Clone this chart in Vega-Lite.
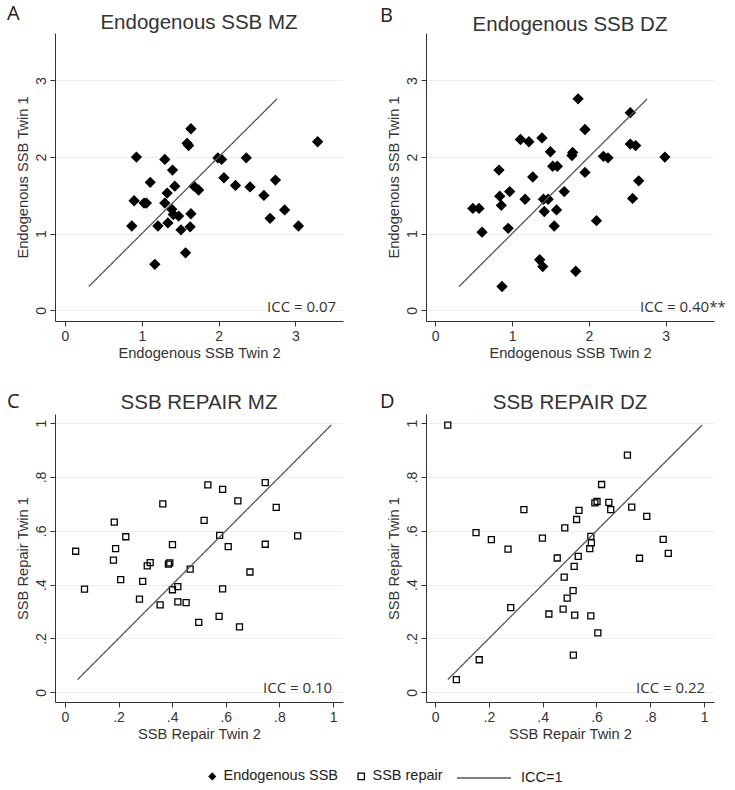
{
  "$schema": "https://vega.github.io/schema/vega-lite/v6.json",
  "padding": {"left": 7, "top": 4, "right": 5, "bottom": 5},
  "background": "white",
  "datasets": {
    "A": [
      {"x": 0.93, "y": 2.00, "s": "Endogenous SSB"}, {"x": 0.90, "y": 1.43, "s": "Endogenous SSB"}, {"x": 0.87, "y": 1.10, "s": "Endogenous SSB"},
      {"x": 1.03, "y": 1.40, "s": "Endogenous SSB"}, {"x": 1.06, "y": 1.40, "s": "Endogenous SSB"}, {"x": 1.11, "y": 1.67, "s": "Endogenous SSB"},
      {"x": 1.17, "y": 0.60, "s": "Endogenous SSB"}, {"x": 1.21, "y": 1.10, "s": "Endogenous SSB"}, {"x": 1.30, "y": 1.97, "s": "Endogenous SSB"},
      {"x": 1.33, "y": 1.53, "s": "Endogenous SSB"}, {"x": 1.30, "y": 1.40, "s": "Endogenous SSB"}, {"x": 1.34, "y": 1.14, "s": "Endogenous SSB"},
      {"x": 1.40, "y": 1.83, "s": "Endogenous SSB"}, {"x": 1.43, "y": 1.62, "s": "Endogenous SSB"}, {"x": 1.39, "y": 1.32, "s": "Endogenous SSB"},
      {"x": 1.41, "y": 1.25, "s": "Endogenous SSB"}, {"x": 1.48, "y": 1.23, "s": "Endogenous SSB"}, {"x": 1.51, "y": 1.05, "s": "Endogenous SSB"},
      {"x": 1.57, "y": 0.75, "s": "Endogenous SSB"}, {"x": 1.59, "y": 2.18, "s": "Endogenous SSB"}, {"x": 1.61, "y": 2.15, "s": "Endogenous SSB"},
      {"x": 1.64, "y": 2.37, "s": "Endogenous SSB"}, {"x": 1.64, "y": 1.26, "s": "Endogenous SSB"}, {"x": 1.63, "y": 1.09, "s": "Endogenous SSB"},
      {"x": 1.68, "y": 1.62, "s": "Endogenous SSB"}, {"x": 1.74, "y": 1.57, "s": "Endogenous SSB"}, {"x": 1.99, "y": 1.99, "s": "Endogenous SSB"},
      {"x": 2.04, "y": 1.97, "s": "Endogenous SSB"}, {"x": 2.07, "y": 1.73, "s": "Endogenous SSB"}, {"x": 2.22, "y": 1.63, "s": "Endogenous SSB"},
      {"x": 2.36, "y": 1.99, "s": "Endogenous SSB"}, {"x": 2.41, "y": 1.61, "s": "Endogenous SSB"}, {"x": 2.59, "y": 1.50, "s": "Endogenous SSB"},
      {"x": 2.74, "y": 1.70, "s": "Endogenous SSB"}, {"x": 2.67, "y": 1.20, "s": "Endogenous SSB"}, {"x": 2.86, "y": 1.31, "s": "Endogenous SSB"},
      {"x": 3.04, "y": 1.10, "s": "Endogenous SSB"}, {"x": 3.29, "y": 2.20, "s": "Endogenous SSB"}
    ],
    "B": [
      {"x": 0.49, "y": 1.33, "s": "Endogenous SSB"}, {"x": 0.57, "y": 1.33, "s": "Endogenous SSB"}, {"x": 0.61, "y": 1.02, "s": "Endogenous SSB"},
      {"x": 0.83, "y": 1.83, "s": "Endogenous SSB"}, {"x": 0.84, "y": 1.49, "s": "Endogenous SSB"}, {"x": 0.86, "y": 1.37, "s": "Endogenous SSB"},
      {"x": 0.87, "y": 0.31, "s": "Endogenous SSB"}, {"x": 0.97, "y": 1.55, "s": "Endogenous SSB"}, {"x": 0.95, "y": 1.07, "s": "Endogenous SSB"},
      {"x": 1.11, "y": 2.23, "s": "Endogenous SSB"}, {"x": 1.22, "y": 2.20, "s": "Endogenous SSB"}, {"x": 1.17, "y": 1.45, "s": "Endogenous SSB"},
      {"x": 1.27, "y": 1.74, "s": "Endogenous SSB"}, {"x": 1.39, "y": 2.25, "s": "Endogenous SSB"}, {"x": 1.36, "y": 0.66, "s": "Endogenous SSB"},
      {"x": 1.40, "y": 0.57, "s": "Endogenous SSB"}, {"x": 1.41, "y": 1.45, "s": "Endogenous SSB"}, {"x": 1.42, "y": 1.29, "s": "Endogenous SSB"},
      {"x": 1.47, "y": 1.45, "s": "Endogenous SSB"}, {"x": 1.50, "y": 2.07, "s": "Endogenous SSB"}, {"x": 1.53, "y": 1.88, "s": "Endogenous SSB"},
      {"x": 1.59, "y": 1.88, "s": "Endogenous SSB"}, {"x": 1.58, "y": 1.31, "s": "Endogenous SSB"}, {"x": 1.55, "y": 1.10, "s": "Endogenous SSB"},
      {"x": 1.68, "y": 1.55, "s": "Endogenous SSB"}, {"x": 1.78, "y": 2.02, "s": "Endogenous SSB"}, {"x": 1.79, "y": 2.06, "s": "Endogenous SSB"},
      {"x": 1.86, "y": 2.76, "s": "Endogenous SSB"}, {"x": 1.83, "y": 0.51, "s": "Endogenous SSB"}, {"x": 1.95, "y": 2.36, "s": "Endogenous SSB"},
      {"x": 1.95, "y": 1.80, "s": "Endogenous SSB"}, {"x": 2.10, "y": 1.17, "s": "Endogenous SSB"}, {"x": 2.19, "y": 2.01, "s": "Endogenous SSB"},
      {"x": 2.25, "y": 1.99, "s": "Endogenous SSB"}, {"x": 2.54, "y": 2.58, "s": "Endogenous SSB"}, {"x": 2.54, "y": 2.17, "s": "Endogenous SSB"},
      {"x": 2.61, "y": 2.15, "s": "Endogenous SSB"}, {"x": 2.57, "y": 1.46, "s": "Endogenous SSB"}, {"x": 2.65, "y": 1.69, "s": "Endogenous SSB"},
      {"x": 2.99, "y": 2.00, "s": "Endogenous SSB"}
    ],
    "C": [
      {"x": 0.040, "y": 0.524, "s": "SSB repair"}, {"x": 0.073, "y": 0.383, "s": "SSB repair"}, {"x": 0.184, "y": 0.632, "s": "SSB repair"},
      {"x": 0.189, "y": 0.534, "s": "SSB repair"}, {"x": 0.181, "y": 0.491, "s": "SSB repair"}, {"x": 0.227, "y": 0.578, "s": "SSB repair"},
      {"x": 0.208, "y": 0.419, "s": "SSB repair"}, {"x": 0.290, "y": 0.412, "s": "SSB repair"}, {"x": 0.278, "y": 0.346, "s": "SSB repair"},
      {"x": 0.307, "y": 0.470, "s": "SSB repair"}, {"x": 0.318, "y": 0.482, "s": "SSB repair"}, {"x": 0.365, "y": 0.700, "s": "SSB repair"},
      {"x": 0.355, "y": 0.325, "s": "SSB repair"}, {"x": 0.386, "y": 0.476, "s": "SSB repair"}, {"x": 0.391, "y": 0.481, "s": "SSB repair"},
      {"x": 0.401, "y": 0.549, "s": "SSB repair"}, {"x": 0.401, "y": 0.381, "s": "SSB repair"}, {"x": 0.421, "y": 0.393, "s": "SSB repair"},
      {"x": 0.421, "y": 0.336, "s": "SSB repair"}, {"x": 0.452, "y": 0.333, "s": "SSB repair"}, {"x": 0.467, "y": 0.458, "s": "SSB repair"},
      {"x": 0.499, "y": 0.260, "s": "SSB repair"}, {"x": 0.519, "y": 0.639, "s": "SSB repair"}, {"x": 0.533, "y": 0.771, "s": "SSB repair"},
      {"x": 0.577, "y": 0.583, "s": "SSB repair"}, {"x": 0.588, "y": 0.754, "s": "SSB repair"}, {"x": 0.588, "y": 0.384, "s": "SSB repair"},
      {"x": 0.575, "y": 0.282, "s": "SSB repair"}, {"x": 0.609, "y": 0.541, "s": "SSB repair"}, {"x": 0.645, "y": 0.711, "s": "SSB repair"},
      {"x": 0.651, "y": 0.243, "s": "SSB repair"}, {"x": 0.690, "y": 0.447, "s": "SSB repair"}, {"x": 0.747, "y": 0.779, "s": "SSB repair"},
      {"x": 0.747, "y": 0.550, "s": "SSB repair"}, {"x": 0.788, "y": 0.687, "s": "SSB repair"}, {"x": 0.868, "y": 0.581, "s": "SSB repair"}
    ],
    "D": [
      {"x": 0.047, "y": 0.993, "s": "SSB repair"}, {"x": 0.079, "y": 0.047, "s": "SSB repair"}, {"x": 0.164, "y": 0.121, "s": "SSB repair"},
      {"x": 0.152, "y": 0.593, "s": "SSB repair"}, {"x": 0.209, "y": 0.567, "s": "SSB repair"}, {"x": 0.271, "y": 0.532, "s": "SSB repair"},
      {"x": 0.281, "y": 0.315, "s": "SSB repair"}, {"x": 0.330, "y": 0.679, "s": "SSB repair"}, {"x": 0.399, "y": 0.573, "s": "SSB repair"},
      {"x": 0.423, "y": 0.291, "s": "SSB repair"}, {"x": 0.454, "y": 0.499, "s": "SSB repair"}, {"x": 0.476, "y": 0.309, "s": "SSB repair"},
      {"x": 0.480, "y": 0.428, "s": "SSB repair"}, {"x": 0.482, "y": 0.611, "s": "SSB repair"}, {"x": 0.491, "y": 0.350, "s": "SSB repair"},
      {"x": 0.513, "y": 0.378, "s": "SSB repair"}, {"x": 0.517, "y": 0.468, "s": "SSB repair"}, {"x": 0.519, "y": 0.287, "s": "SSB repair"},
      {"x": 0.514, "y": 0.138, "s": "SSB repair"}, {"x": 0.526, "y": 0.642, "s": "SSB repair"}, {"x": 0.532, "y": 0.505, "s": "SSB repair"},
      {"x": 0.535, "y": 0.676, "s": "SSB repair"}, {"x": 0.575, "y": 0.534, "s": "SSB repair"}, {"x": 0.579, "y": 0.579, "s": "SSB repair"},
      {"x": 0.581, "y": 0.555, "s": "SSB repair"}, {"x": 0.579, "y": 0.284, "s": "SSB repair"}, {"x": 0.594, "y": 0.704, "s": "SSB repair"},
      {"x": 0.602, "y": 0.709, "s": "SSB repair"}, {"x": 0.605, "y": 0.221, "s": "SSB repair"}, {"x": 0.619, "y": 0.772, "s": "SSB repair"},
      {"x": 0.646, "y": 0.706, "s": "SSB repair"}, {"x": 0.653, "y": 0.679, "s": "SSB repair"}, {"x": 0.715, "y": 0.881, "s": "SSB repair"},
      {"x": 0.731, "y": 0.688, "s": "SSB repair"}, {"x": 0.760, "y": 0.498, "s": "SSB repair"}, {"x": 0.787, "y": 0.654, "s": "SSB repair"},
      {"x": 0.848, "y": 0.568, "s": "SSB repair"}, {"x": 0.867, "y": 0.516, "s": "SSB repair"}
    ]
  },
  "columns": 2,
  "spacing": {"row": 93, "column": 83},
  "bounds": "flush",
  "resolve": {
    "scale": {"shape": "shared", "fill": "shared", "stroke": "shared", "strokeDash": "shared"},
    "legend": {"shape": "shared", "fill": "shared", "stroke": "shared", "strokeDash": "shared"}
  },
  "concat": [
    {
      "width": 288, "height": 288,
      "title": {"text": "Endogenous SSB MZ", "offset": -29},
      "layer": [
        {
          "data": {"name": "A"},
          "mark": {"type": "point", "opacity": 1, "strokeWidth": 1.3, "size": 90},
          "encoding": {
            "x": {"field": "x", "type": "quantitative", "title": "Endogenous SSB Twin 2", "scale": {"domain": [-0.13, 3.62], "nice": false, "zero": false}, "axis": {"values": [0, 1, 2, 3], "format": "d"}},
            "y": {"field": "y", "type": "quantitative", "title": "Endogenous SSB Twin 1", "scale": {"domain": [-0.14, 3.62], "nice": false, "zero": false}, "axis": {"values": [0, 1, 2, 3], "format": "d"}},
            "shape": {"field": "s", "type": "nominal", "scale": {"domain": ["Endogenous SSB", "SSB repair"], "range": ["diamond", "square"]}, "legend": {"orient": "none", "legendX": 150, "legendY": 736, "direction": "horizontal", "title": null, "symbolSize": 40, "labelOffset": 4, "columnPadding": 16}},
            "fill": {"field": "s", "type": "nominal", "scale": {"domain": ["Endogenous SSB", "SSB repair"], "range": ["#000000", "transparent"]}, "legend": {"orient": "none", "legendX": 150, "legendY": 736, "direction": "horizontal", "title": null, "symbolSize": 40, "labelOffset": 4, "columnPadding": 16}},
            "stroke": {"field": "s", "type": "nominal", "scale": {"domain": ["Endogenous SSB", "SSB repair"], "range": ["#000000", "#000000"]}, "legend": {"orient": "none", "legendX": 150, "legendY": 736, "direction": "horizontal", "title": null, "symbolSize": 40, "labelOffset": 4, "columnPadding": 16}}
          }
        },
        {
          "data": {"values": [{"v": 0.31, "l": "ICC=1"}, {"v": 2.76, "l": "ICC=1"}]},
          "mark": {"type": "line", "color": "#555555", "strokeWidth": 1.3},
          "encoding": {
            "x": {"field": "v", "type": "quantitative", "title": "Endogenous SSB Twin 2"},
            "y": {"field": "v", "type": "quantitative", "title": "Endogenous SSB Twin 1"},
            "strokeDash": {"field": "l", "type": "nominal", "scale": {"domain": ["ICC=1"], "range": [[1, 0]]}, "legend": {"orient": "none", "legendX": 401, "legendY": 717, "title": null, "symbolType": "stroke", "symbolSize": 2916, "symbolStrokeColor": "#555555", "labelOffset": 9}}
          }
        },
        {
          "data": {"values": [{"t": "ICC = 0.07"}]},
          "mark": {"type": "text", "align": "left", "baseline": "alphabetic", "dx": -76, "dy": -9, "font": "Open Sans", "fontSize": 15, "color": "#333333"},
          "encoding": {"x": {"value": "width"}, "y": {"value": "height"}, "text": {"field": "t"}}
        },
        {
          "data": {"values": [{"t": "A"}]},
          "mark": {"type": "text", "align": "left", "baseline": "top", "dx": -48, "dy": -29, "font": "Open Sans", "fontSize": 20, "color": "#222222"},
          "encoding": {"x": {"value": 0}, "y": {"value": 0}, "text": {"field": "t"}}
        }
      ]
    },
    {
      "width": 288, "height": 288,
      "title": {"text": "Endogenous SSB DZ", "offset": -29},
      "layer": [
        {
          "data": {"name": "B"},
          "mark": {"type": "point", "opacity": 1, "strokeWidth": 1.3, "size": 90},
          "encoding": {
            "x": {"field": "x", "type": "quantitative", "title": "Endogenous SSB Twin 2", "scale": {"domain": [-0.12, 3.63], "nice": false, "zero": false}, "axis": {"values": [0, 1, 2, 3], "format": "d"}},
            "y": {"field": "y", "type": "quantitative", "title": "Endogenous SSB Twin 1", "scale": {"domain": [-0.14, 3.62], "nice": false, "zero": false}, "axis": {"values": [0, 1, 2, 3], "format": "d"}},
            "shape": {"field": "s", "type": "nominal", "scale": {"domain": ["Endogenous SSB", "SSB repair"], "range": ["diamond", "square"]}, "legend": {"orient": "none", "legendX": 150, "legendY": 736, "direction": "horizontal", "title": null, "symbolSize": 40, "labelOffset": 4, "columnPadding": 16}},
            "fill": {"field": "s", "type": "nominal", "scale": {"domain": ["Endogenous SSB", "SSB repair"], "range": ["#000000", "transparent"]}, "legend": {"orient": "none", "legendX": 150, "legendY": 736, "direction": "horizontal", "title": null, "symbolSize": 40, "labelOffset": 4, "columnPadding": 16}},
            "stroke": {"field": "s", "type": "nominal", "scale": {"domain": ["Endogenous SSB", "SSB repair"], "range": ["#000000", "#000000"]}, "legend": {"orient": "none", "legendX": 150, "legendY": 736, "direction": "horizontal", "title": null, "symbolSize": 40, "labelOffset": 4, "columnPadding": 16}}
          }
        },
        {
          "data": {"values": [{"v": 0.31, "l": "ICC=1"}, {"v": 2.76, "l": "ICC=1"}]},
          "mark": {"type": "line", "color": "#555555", "strokeWidth": 1.3},
          "encoding": {
            "x": {"field": "v", "type": "quantitative", "title": "Endogenous SSB Twin 2"},
            "y": {"field": "v", "type": "quantitative", "title": "Endogenous SSB Twin 1"},
            "strokeDash": {"field": "l", "type": "nominal", "scale": {"domain": ["ICC=1"], "range": [[1, 0]]}, "legend": {"orient": "none", "legendX": 401, "legendY": 717, "title": null, "symbolType": "stroke", "symbolSize": 2916, "symbolStrokeColor": "#555555", "labelOffset": 9}}
          }
        },
        {
          "data": {"values": [{"t": "ICC = 0.40**"}]},
          "mark": {"type": "text", "align": "left", "baseline": "alphabetic", "dx": -74, "dy": -9, "font": "Open Sans", "fontSize": 15, "color": "#333333"},
          "encoding": {"x": {"value": "width"}, "y": {"value": "height"}, "text": {"field": "t"}}
        },
        {
          "data": {"values": [{"t": "B"}]},
          "mark": {"type": "text", "align": "left", "baseline": "top", "dx": -46, "dy": -27, "font": "Open Sans", "fontSize": 20, "color": "#222222"},
          "encoding": {"x": {"value": 0}, "y": {"value": 0}, "text": {"field": "t"}}
        }
      ]
    },
    {
      "width": 288, "height": 288,
      "title": {"text": "SSB REPAIR MZ", "offset": -21},
      "layer": [
        {
          "data": {"name": "C"},
          "mark": {"type": "point", "opacity": 1, "strokeWidth": 1.3, "size": 36},
          "encoding": {
            "x": {"field": "x", "type": "quantitative", "title": "SSB Repair Twin 2", "scale": {"domain": [-0.037, 1.037], "nice": false, "zero": false}, "axis": {"values": [0, 0.2, 0.4, 0.6, 0.8, 1], "labelExpr": "replace(format(datum.value, '.1~f'), '0.', '.')"}},
            "y": {"field": "y", "type": "quantitative", "title": "SSB Repair Twin 1", "scale": {"domain": [-0.036, 1.034], "nice": false, "zero": false}, "axis": {"values": [0, 0.2, 0.4, 0.6, 0.8, 1], "labelExpr": "replace(format(datum.value, '.1~f'), '0.', '.')"}},
            "shape": {"field": "s", "type": "nominal", "scale": {"domain": ["Endogenous SSB", "SSB repair"], "range": ["diamond", "square"]}, "legend": {"orient": "none", "legendX": 150, "legendY": 736, "direction": "horizontal", "title": null, "symbolSize": 40, "labelOffset": 4, "columnPadding": 16}},
            "fill": {"field": "s", "type": "nominal", "scale": {"domain": ["Endogenous SSB", "SSB repair"], "range": ["#000000", "transparent"]}, "legend": {"orient": "none", "legendX": 150, "legendY": 736, "direction": "horizontal", "title": null, "symbolSize": 40, "labelOffset": 4, "columnPadding": 16}},
            "stroke": {"field": "s", "type": "nominal", "scale": {"domain": ["Endogenous SSB", "SSB repair"], "range": ["#000000", "#000000"]}, "legend": {"orient": "none", "legendX": 150, "legendY": 736, "direction": "horizontal", "title": null, "symbolSize": 40, "labelOffset": 4, "columnPadding": 16}}
          }
        },
        {
          "data": {"values": [{"v": 0.047, "l": "ICC=1"}, {"v": 0.993, "l": "ICC=1"}]},
          "mark": {"type": "line", "color": "#555555", "strokeWidth": 1.3},
          "encoding": {
            "x": {"field": "v", "type": "quantitative", "title": "SSB Repair Twin 2"},
            "y": {"field": "v", "type": "quantitative", "title": "SSB Repair Twin 1"},
            "strokeDash": {"field": "l", "type": "nominal", "scale": {"domain": ["ICC=1"], "range": [[1, 0]]}, "legend": {"orient": "none", "legendX": 401, "legendY": 717, "title": null, "symbolType": "stroke", "symbolSize": 2916, "symbolStrokeColor": "#555555", "labelOffset": 9}}
          }
        },
        {
          "data": {"values": [{"t": "ICC = 0.10"}]},
          "mark": {"type": "text", "align": "left", "baseline": "alphabetic", "dx": -80, "dy": -9, "font": "Open Sans", "fontSize": 15, "color": "#333333"},
          "encoding": {"x": {"value": "width"}, "y": {"value": "height"}, "text": {"field": "t"}}
        },
        {
          "data": {"values": [{"t": "C"}]},
          "mark": {"type": "text", "align": "left", "baseline": "top", "dx": -48, "dy": -22, "font": "Open Sans", "fontSize": 20, "color": "#222222"},
          "encoding": {"x": {"value": 0}, "y": {"value": 0}, "text": {"field": "t"}}
        }
      ]
    },
    {
      "width": 288, "height": 288,
      "title": {"text": "SSB REPAIR DZ", "offset": -21},
      "layer": [
        {
          "data": {"name": "D"},
          "mark": {"type": "point", "opacity": 1, "strokeWidth": 1.3, "size": 36},
          "encoding": {
            "x": {"field": "x", "type": "quantitative", "title": "SSB Repair Twin 2", "scale": {"domain": [-0.034, 1.037], "nice": false, "zero": false}, "axis": {"values": [0, 0.2, 0.4, 0.6, 0.8, 1], "labelExpr": "replace(format(datum.value, '.1~f'), '0.', '.')"}},
            "y": {"field": "y", "type": "quantitative", "title": "SSB Repair Twin 1", "scale": {"domain": [-0.036, 1.034], "nice": false, "zero": false}, "axis": {"values": [0, 0.2, 0.4, 0.6, 0.8, 1], "labelExpr": "replace(format(datum.value, '.1~f'), '0.', '.')"}},
            "shape": {"field": "s", "type": "nominal", "scale": {"domain": ["Endogenous SSB", "SSB repair"], "range": ["diamond", "square"]}, "legend": {"orient": "none", "legendX": 150, "legendY": 736, "direction": "horizontal", "title": null, "symbolSize": 40, "labelOffset": 4, "columnPadding": 16}},
            "fill": {"field": "s", "type": "nominal", "scale": {"domain": ["Endogenous SSB", "SSB repair"], "range": ["#000000", "transparent"]}, "legend": {"orient": "none", "legendX": 150, "legendY": 736, "direction": "horizontal", "title": null, "symbolSize": 40, "labelOffset": 4, "columnPadding": 16}},
            "stroke": {"field": "s", "type": "nominal", "scale": {"domain": ["Endogenous SSB", "SSB repair"], "range": ["#000000", "#000000"]}, "legend": {"orient": "none", "legendX": 150, "legendY": 736, "direction": "horizontal", "title": null, "symbolSize": 40, "labelOffset": 4, "columnPadding": 16}}
          }
        },
        {
          "data": {"values": [{"v": 0.047, "l": "ICC=1"}, {"v": 0.993, "l": "ICC=1"}]},
          "mark": {"type": "line", "color": "#555555", "strokeWidth": 1.3},
          "encoding": {
            "x": {"field": "v", "type": "quantitative", "title": "SSB Repair Twin 2"},
            "y": {"field": "v", "type": "quantitative", "title": "SSB Repair Twin 1"},
            "strokeDash": {"field": "l", "type": "nominal", "scale": {"domain": ["ICC=1"], "range": [[1, 0]]}, "legend": {"orient": "none", "legendX": 401, "legendY": 717, "title": null, "symbolType": "stroke", "symbolSize": 2916, "symbolStrokeColor": "#555555", "labelOffset": 9}}
          }
        },
        {
          "data": {"values": [{"t": "ICC = 0.22"}]},
          "mark": {"type": "text", "align": "left", "baseline": "alphabetic", "dx": -78, "dy": -9, "font": "Open Sans", "fontSize": 15, "color": "#333333"},
          "encoding": {"x": {"value": "width"}, "y": {"value": "height"}, "text": {"field": "t"}}
        },
        {
          "data": {"values": [{"t": "D"}]},
          "mark": {"type": "text", "align": "left", "baseline": "top", "dx": -46, "dy": -22, "font": "Open Sans", "fontSize": 20, "color": "#222222"},
          "encoding": {"x": {"value": 0}, "y": {"value": 0}, "text": {"field": "t"}}
        }
      ]
    }
  ],
  "config": {
    "view": {"stroke": null},
    "font": "Liberation Sans",
    "axis": {
      "domainColor": "#333333", "tickColor": "#333333", "tickSize": 5,
      "labelFont": "Liberation Sans", "labelFontSize": 14, "labelColor": "#333333", "labelFlush": false, "labelPadding": 3,
      "titleFont": "Liberation Sans", "titleFontSize": 14.7, "titleFontWeight": "normal", "titleColor": "#333333",
      "grid": false
    },
    "axisY": {"grid": true, "gridColor": "#eeeeee", "labelAngle": -90, "labelAlign": "center", "labelBaseline": "bottom", "labelPadding": 2, "titlePadding": 4},
    "axisX": {"titlePadding": 2},
    "legend": {"labelFont": "Liberation Sans", "labelFontSize": 14.5, "labelColor": "#222222", "symbolStrokeWidth": 1.3, "padding": 0},
    "title": {"font": "Liberation Sans", "fontSize": 20.5, "fontWeight": "normal", "color": "#333333", "anchor": "middle", "frame": "group", "baseline": "alphabetic"}
  }
}
